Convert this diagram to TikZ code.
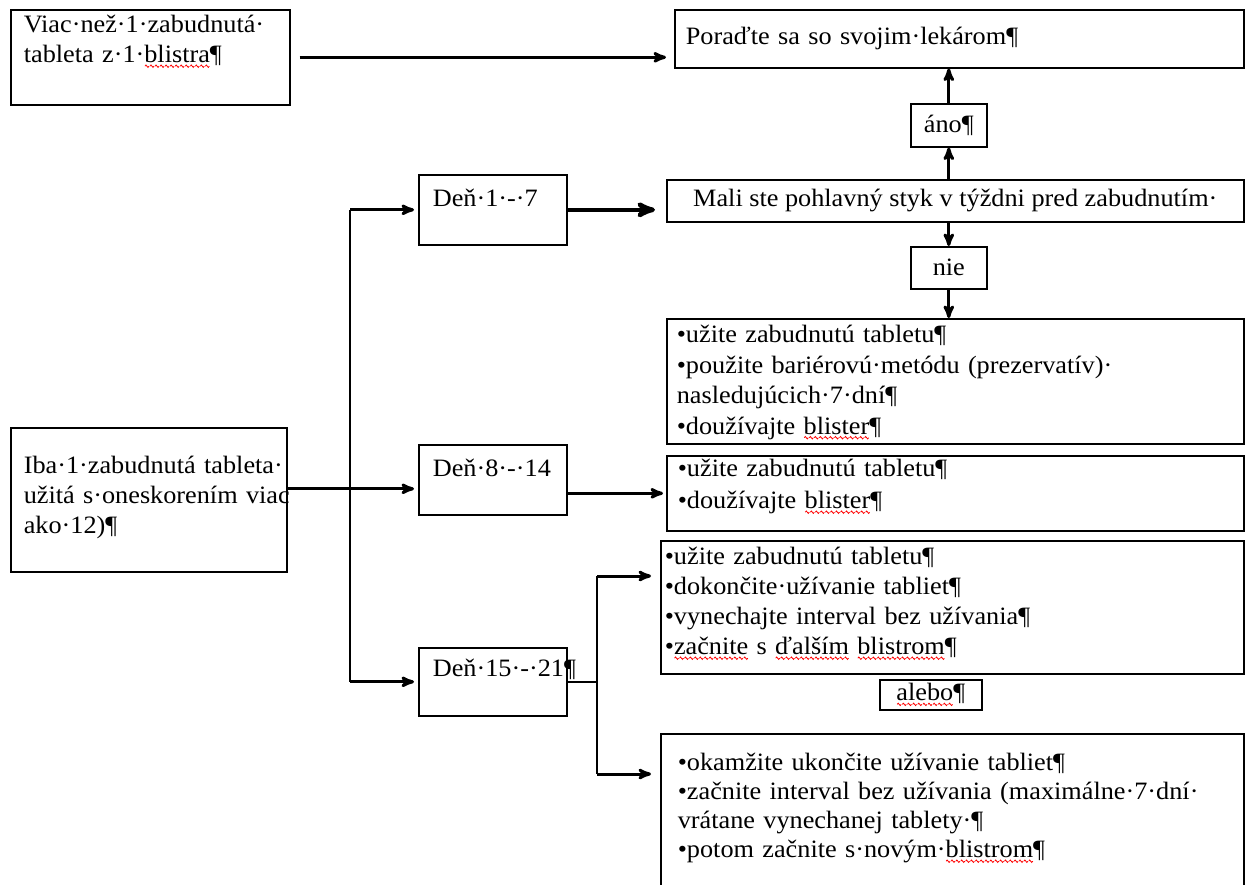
\documentclass[tikz,border=0pt]{standalone}
\usepackage{fontspec}
\setmainfont{Liberation Serif}[FakeStretch=1.05]
\usepackage{tikz}
\usetikzlibrary{arrows}

% red wavy line of the spell checker
\newsavebox\wavebox
\sbox\wavebox{\tikz\draw[red,line width=0.8pt] (0,0) sin (1pt,1.2pt) cos (2pt,0) sin (3pt,-1.2pt) cos (4pt,0);}
\newcommand\spellerr[1]{\leavevmode\setbox0\hbox{#1}%
  \rlap{\raisebox{-5pt}{\hbox to \wd0{\xleaders\copy\wavebox\hfil}}}\box0\relax}

\begin{document}
\begin{tikzpicture}[x=1pt,y=-1pt,>=stealth',
    text box/.style={draw,line width=1.6pt,anchor=north west,align=left,inner ysep=0pt,
                     font=\fontsize{25}{#1}\selectfont},
    text box/.default=30,
    tag box/.style={draw,line width=1.6pt,anchor=north west,inner sep=0pt,
                    font=\fontsize{25}{25}\selectfont},
    link/.style={->,line width=3pt},
    trunk/.style={line width=1.8pt}]

	\useasboundingbox (0,0) rectangle (1246,884);

	\node[text box, inner xsep=13pt, text width=253pt, text height=23pt, text depth=72pt] (viac) at (10,9)
		{Viac·než·1·zabudnutá·\\tableta z·1·\spellerr{blistra}¶};
	\node[text box, inner xsep=11pt, text width=547pt, text height=35pt, text depth=23pt] (lekar) at (674,9)
		{Poraďte sa so svojim·lekárom¶};
	\node[tag box, minimum width=76pt, minimum height=43pt] (ano) at (910,103) {áno¶};
	\node[tag box, minimum width=577pt, minimum height=42pt] (styk) at (666,179)
		{Mali ste pohlavný styk v týždni pred zabudnutím·};
	\node[tag box, minimum width=76pt, minimum height=42pt] (nie) at (910,246) {nie};

	\node[text box=30.5, inner xsep=10pt, text width=557pt, text height=24pt, text depth=101pt] (krok1) at (666,318)
		{•užite zabudnutú tabletu¶\\•použite bariérovú·metódu (prezervatív)·\\nasledujúcich·7·dní¶\\•doužívajte \spellerr{blister}¶};
	\node[text box=32, inner xsep=11pt, text width=555pt, text height=21pt, text depth=54pt] (krok2) at (666,455)
		{•užite zabudnutú tabletu¶\\•doužívajte \spellerr{blister}¶};
	\node[text box, inner xsep=4pt, text width=575pt, text height=24pt, text depth=109pt] (krok3) at (660,540)
		{•užite zabudnutú tabletu¶\\•dokončite·užívanie tabliet¶\\•vynechajte interval bez užívania¶\\•\spellerr{začnite} s \spellerr{ďalším} \spellerr{blistrom}¶};
	\node[tag box, minimum width=102pt, minimum height=30pt] (alebo) at (879,679) {\spellerr{alebo}¶};
	\node[text box=29, inner xsep=17pt, text width=549pt, text height=37pt, text depth=123pt] (krok4) at (660,733)
		{•okamžite ukončite užívanie tabliet¶\\•začnite interval bez užívania (maximálne·7·dní·\\vrátane vynechanej tablety·¶\\•potom začnite s·novým·\spellerr{blistrom}¶};

	\node[text box, inner xsep=13pt, text width=250pt, text height=46pt, text depth=98pt] (iba) at (10,427)
		{\mbox{Iba·1·zabudnutá tableta·}\\\mbox{užitá s·oneskorením viac}\\\mbox{ako·12)¶}};
	\node[text box, inner xsep=14pt, text width=120pt, text height=32pt, text depth=38pt] (den1) at (418,174)
		{\mbox{Deň·1·-·7}};
	\node[text box, inner xsep=14pt, text width=120pt, text height=32pt, text depth=38pt] (den2) at (418,444)
		{\mbox{Deň·8·-·14}};
	\node[text box, inner xsep=14pt, text width=120pt, text height=29pt, text depth=39pt] (den3) at (418,647)
		{\mbox{Deň·15·-·21¶}};

	\coordinate (fork) at (350,488);
	\coordinate (split) at (597,678);
	\coordinate (fa) at (597,576);
	\coordinate (ga) at (597,774);

	\draw[link, shorten >=8pt] ([xshift=9pt]viac.east) -- (viac.east -| lekar.west);
	\draw[link] (ano.south |- styk.north) -- (ano.south);
	\draw[link] (ano.north) -- (ano.north |- lekar.south);
	\draw[link] (nie.north |- styk.south) -- (nie.north);
	\draw[link] (nie.south) -- (nie.south |- krok1.north);

	\draw[link, shorten >=4pt] ([yshift=-9pt]den2.west -| iba.east) -- ([yshift=-9pt]den2.west);
	\draw[trunk] (den1.west -| fork) -- (den3.west -| fork);
	\draw[link, shorten >=4pt] (den1.west -| fork) -- (den1.west);
	\draw[link, shorten >=4pt] (den3.west -| fork) -- (den3.west);

	\draw[link, line width=4.5pt, shorten >=11pt] (den1.east) -- (den1.east -| styk.west);
	\draw[link, shorten >=3pt] (den2.east |- krok2.west) -- (krok2.west);

	\draw[trunk] (den3.east) -- (den3.east -| split);
	\draw[trunk] (fa) -- (ga);
	\draw[link, shorten >=9pt] (fa) -- (fa -| krok3.west);
	\draw[link, shorten >=9pt] (ga) -- (ga -| krok4.west);
\end{tikzpicture}
\end{document}
